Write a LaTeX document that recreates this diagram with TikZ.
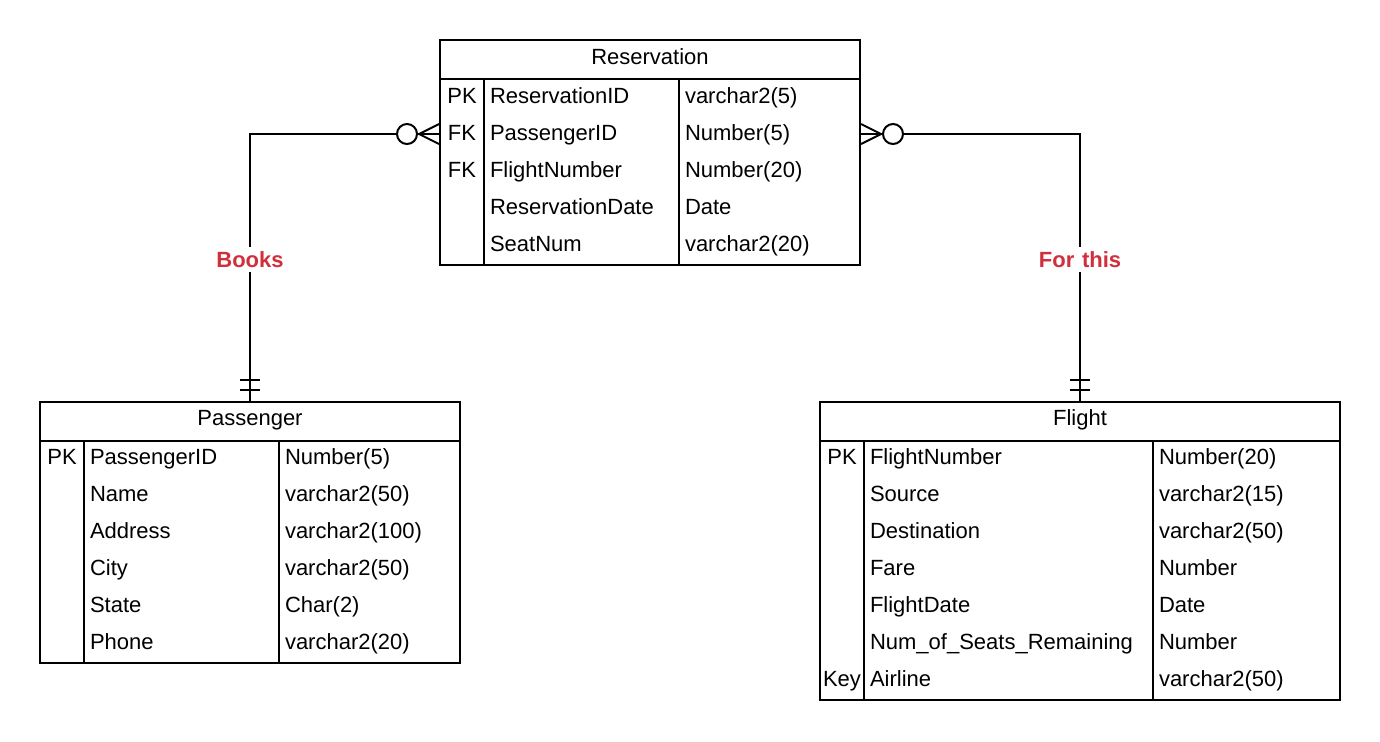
\documentclass[tikz,border=0pt]{standalone}
\usepackage{fontspec}
\setmainfont{Liberation Sans}
\definecolor{relred}{RGB}{209,47,60}
\begin{document}
\begin{tikzpicture}[x=0.5pt,y=-0.5pt,line width=1pt,
  every node/.style={font=\fontsize{11}{13}\selectfont,inner sep=0pt},
  tbl/.style={draw,rectangle,line width=1pt,inner sep=0pt},
  cell/.style={anchor=west,text height=7.9pt,text depth=0pt},
  keycell/.style={anchor=center,text height=7.9pt,text depth=0pt},
  hdr/.style={anchor=center,text height=7.9pt,text depth=0pt},
  lbl/.style={font=\fontsize{11}{13}\selectfont\bfseries,text=relred,fill=white,inner sep=2.5pt,text height=7.9pt,text depth=0pt},
  circ/.style={draw,circle,fill=white,minimum size=10pt,inner sep=0pt}]
\useasboundingbox (0,0) rectangle (1380,741);

% ---------- Reservation ----------
\node[tbl,minimum width=210pt,minimum height=112.5pt] (res) at (650,152.5) {};
\draw (440,79) -- (860,79);
\draw (484,79) -- (484,265);
\draw (679,79) -- (679,265);
\node[hdr] (resH) at (650,57) {Reservation};
\foreach \k/\n/\t [count=\i from 0] in {PK/ReservationID/varchar2(5),FK/PassengerID/Number(5),FK/FlightNumber/Number(20),/ReservationDate/Date,/SeatNum/varchar2(20)}{
  \node[keycell] (r\i k) at (462,96+37*\i) {\k};
  \node[cell] (r\i n) at (489,96+37*\i) {\n};
  \node[cell] (r\i t) at (684,96+37*\i) {\t};
}

% ---------- Passenger ----------
\node[tbl,minimum width=210pt,minimum height=130.5pt] (pas) at (250,532.5) {};
\draw (40,441) -- (460,441);
\draw (84,441) -- (84,663);
\draw (279,441) -- (279,663);
\node[hdr] (pasH) at (250,418) {Passenger};
\foreach \k/\n/\t [count=\i from 0] in {PK/PassengerID/Number(5),/Name/varchar2(50),/Address/varchar2(100),/City/varchar2(50),/State/Char(2),/Phone/varchar2(20)}{
  \node[keycell] (p\i k) at (62,457+37*\i) {\k};
  \node[cell] (p\i n) at (89,457+37*\i) {\n};
  \node[cell] (p\i t) at (284,457+37*\i) {\t};
}

% ---------- Flight ----------
\node[tbl,minimum width=260pt,minimum height=149pt] (fl) at (1080,551) {};
\draw (820,441) -- (1340,441);
\draw (864,441) -- (864,700);
\draw (1153,441) -- (1153,700);
\node[hdr] (flH) at (1080,418) {Flight};
\foreach \k/\n/\t [count=\i from 0] in {PK/FlightNumber/Number(20),/Source/varchar2(15),/Destination/varchar2(50),/Fare/Number,/FlightDate/Date,/Num\_of\_Seats\_Remaining/Number,Key/Airline/varchar2(50)}{
  \node[keycell] (f\i k) at (842,457+37*\i) {\k};
  \node[cell] (f\i n) at (869,457+37*\i) {\n};
  \node[cell] (f\i t) at (1158,457+37*\i) {\t};
}

% ---------- Relationships ----------
\coordinate (jL) at ([yshift=-0.5pt]res.west |- r1k);
\coordinate (jR) at ([yshift=-0.5pt]res.east |- r1k);
\draw (jL) -| node[lbl,pos=0.735] {Books} (pas.north);
\path (jL) ++(-32,0) node[circ] (cL) {};
\draw (jL) ++(0,-10) -- ++(-20,10) -- ++(20,10);
\draw (pas.north) ++(-10,-11) -- ++(20,0);
\draw (pas.north) ++(-10,-21) -- ++(20,0);

\draw (jR) -| node[lbl,pos=0.735] {For\hspace{0.35em}this} (fl.north);
\path (jR) ++(32,0) node[circ] (cR) {};
\draw (jR) ++(0,-10) -- ++(20,10) -- ++(-20,10);
\draw (fl.north) ++(-10,-11) -- ++(20,0);
\draw (fl.north) ++(-10,-21) -- ++(20,0);
\end{tikzpicture}
\end{document}
